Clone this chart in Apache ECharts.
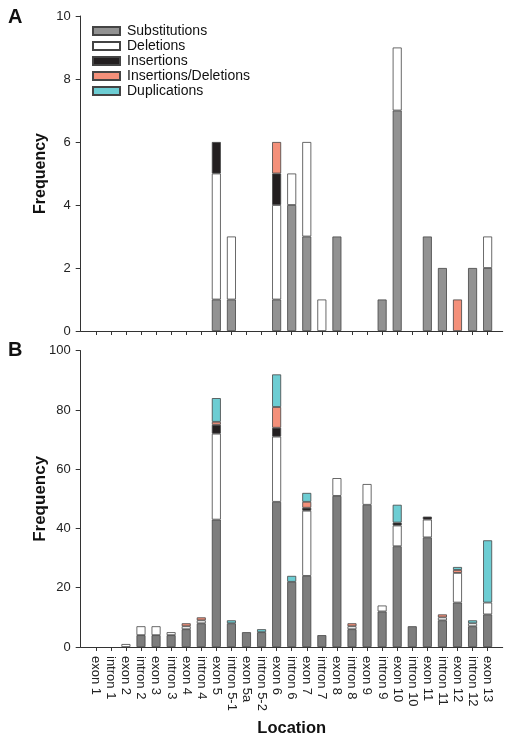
<!DOCTYPE html>
<html><head><meta charset="utf-8">
<script src="https://cdn.jsdelivr.net/npm/echarts@6/dist/echarts.min.js"></script>
<style>html,body{margin:0;padding:0;background:#fff}#c{width:512px;height:738px}</style>
</head><body><div id="c"></div>
<script>
const categories = ['exon 1','intron 1','exon 2','intron 2','exon 3','intron 3','exon 4','intron 4','exon 5','intron 5-1','exon 5a','intron 5-2','exon 6','intron 6','exon 7','intron 7','exon 8','intron 8','exon 9','intron 9','exon 10','intron 10','exon 11','intron 11','exon 12','intron 12','exon 13'];
const seriesNames = ['Substitutions','Deletions','Insertions','Insertions/Deletions','Duplications'];
const yTicksA = [0,2,4,6,8,10];
const yTicksB = [0,20,40,60,80,100];
// Panel A
const aSub   = [0,0,0,0,0,0,0,0,1,1,0,0,1,4,3,0,3,0,0,1,7,0,3,2,0,2,2];
const aDel   = [0,0,0,0,0,0,0,0,4,2,0,0,3,1,3,1,0,0,0,0,2,0,0,0,0,0,1];
const aIns   = [0,0,0,0,0,0,0,0,1,0,0,0,1,0,0,0,0,0,0,0,0,0,0,0,0,0,0];
const aIndel = [0,0,0,0,0,0,0,0,0,0,0,0,1,0,0,0,0,0,0,0,0,0,0,0,1,0,0];
const aDup   = [0,0,0,0,0,0,0,0,0,0,0,0,0,0,0,0,0,0,0,0,0,0,0,0,0,0,0];
// Panel B
const bSub   = [0,0,0,4,4,4,6,8,43,8,5,5,49,22,24,4,51,6,48,12,34,7,37,9,15,7,11];
const bDel   = [0,0,1,3,3,1,1,1,29,0,0,0,22,0,22,0,6,1,7,2,7,0,6,1,10,1,4];
const bIns   = [0,0,0,0,0,0,0,0,3,0,0,0,3,0,1,0,0,0,0,0,1,0,1,0,0,0,0];
const bIndel = [0,0,0,0,0,0,1,1,1,0,0,0,7,0,2,0,0,1,0,0,0,0,0,1,1,0,0];
const bDup   = [0,0,0,0,0,0,0,0,8,1,0,1,11,2,3,0,0,0,0,0,6,0,0,0,1,1,21];

const colorsA = ['#929292','#ffffff','#231f20','#f4907a','#6dcdd3'];
const colorsB = ['#7d7d7d','#ffffff','#231f20','#f4907a','#6dcdd3'];
const FONT = 'Arial, "Liberation Sans", sans-serif';
// one empty slot at each end so the axis line runs past the first/last bar
const axisCats = [''].concat(categories, ['']);
const last = axisCats.length - 1;

function toData(arr){ return [null].concat(arr.map(v => v === 0 ? null : v), [null]); }

function makeSeries(arrs, colors, gi, stack){
  return arrs.map((arr, k) => ({
    name: seriesNames[k], type: 'bar', stack: stack,
    xAxisIndex: gi, yAxisIndex: gi, barWidth: 9,
    data: toData(arr),
    itemStyle: { color: colors[k], borderColor: '#444', borderWidth: 0.8 },
    emphasis: { disabled: true }
  }));
}

const axisLine = { show: true, onZero: false, lineStyle: { color: '#333', width: 1 } };
const inner = (i) => i > 0 && i < last;
const xBase = (gi) => ({
  type: 'category', gridIndex: gi, data: axisCats, boundaryGap: false,
  axisLine: axisLine, splitLine: { show: false },
  axisTick: { show: true, interval: inner, length: 4, lineStyle: { color: '#333' } },
  axisLabel: gi === 1 ? {
    show: true, interval: inner, rotate: -90, fontSize: 13, color: '#222', fontFamily: FONT, margin: 9
  } : { show: false }
});
const yBase = (gi, ticks, nameSize) => ({
  type: 'value', gridIndex: gi, min: ticks[0], max: ticks[ticks.length-1], interval: ticks[1]-ticks[0],
  axisLine: axisLine, splitLine: { show: false },
  axisTick: { show: true, length: 5, lineStyle: { color: '#333' } },
  axisLabel: { fontSize: 13, color: '#222', fontFamily: FONT, margin: 10 },
  name: 'Frequency', nameLocation: 'middle', nameGap: 32, nameRotate: 90, nameMoveOverlap: false,
  nameTextStyle: { fontSize: nameSize, fontWeight: 'bold', color: '#111', fontFamily: FONT }
});

const x1 = xBase(1);
x1.name = 'Location'; x1.nameLocation = 'middle'; x1.nameGap = 73; x1.nameMoveOverlap = false;
x1.nameTextStyle = { fontSize: 16.5, fontWeight: 'bold', color: '#111', fontFamily: FONT };

const option = {
  animation: false,
  textStyle: { fontFamily: FONT },
  grid: [
    { left: 80.7, top: 16, width: 422, height: 315 },
    { left: 80.7, top: 350.7, width: 422, height: 297 }
  ],
  xAxis: [ xBase(0), x1 ],
  yAxis: [ yBase(0, yTicksA, 16), yBase(1, yTicksB, 17) ],
  legend: {
    orient: 'vertical', left: 92, top: 24, padding: 0, itemWidth: 27, itemHeight: 8, itemGap: 1,
    icon: 'rect', data: seriesNames,
    textStyle: { fontSize: 14, color: '#111', fontFamily: FONT, padding: [0,0,0,2] }
  },
  graphic: [
    { type: 'text', left: 8, top: 7, style: { text: 'A', fontSize: 20, fontWeight: 'bold', fill: '#111', fontFamily: FONT } },
    { type: 'text', left: 8, top: 340, style: { text: 'B', fontSize: 20, fontWeight: 'bold', fill: '#111', fontFamily: FONT } }
  ],
  series: [
    ...makeSeries([aSub,aDel,aIns,aIndel,aDup], colorsA, 0, 'A'),
    ...makeSeries([bSub,bDel,bIns,bIndel,bDup], colorsB, 1, 'B')
  ]
};
const chart = echarts.init(document.getElementById('c'), null, { renderer: 'canvas' });
chart.setOption(option);
</script></body></html>
